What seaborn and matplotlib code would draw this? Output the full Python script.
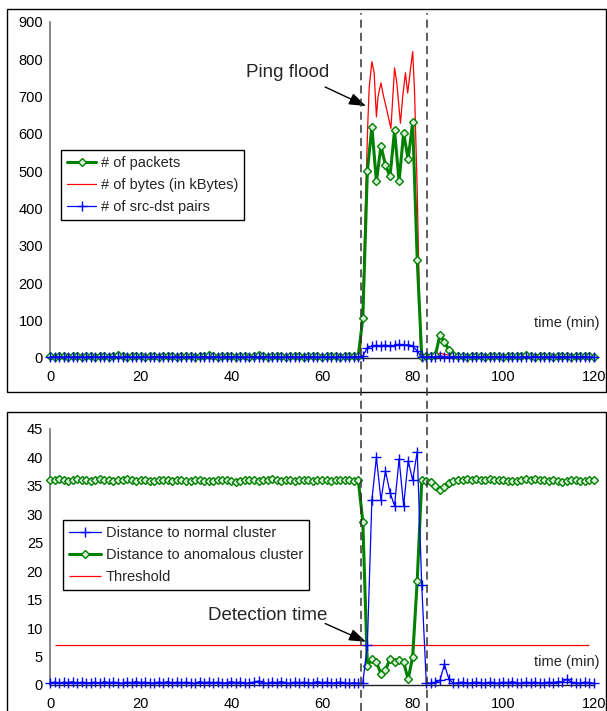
import numpy as np
import matplotlib
matplotlib.use("Agg")
import matplotlib.pyplot as plt
from matplotlib.patches import Rectangle
from matplotlib.lines import Line2D
import seaborn as sns

# time axis, one sample per minute
minutes = np.arange(0, 121)

# ---- top panel: traffic volume ----
packets = [4, 3, 5, 4, 3, 4, 5, 3, 4, 4,
           3, 5, 4, 3, 4, 6, 4, 3, 4, 5,
           4, 3, 4, 5, 3, 4, 4, 5, 3, 4,
           5, 4, 3, 4, 4, 6, 4, 3, 5, 4,
           4, 3, 5, 4, 3, 4, 6, 4, 3, 4,
           5, 4, 3, 4, 5, 4, 3, 4, 4, 5,
           3, 4, 5, 4, 3, 4, 5, 4,
           4, 106, 500, 618, 472, 567, 516, 486, 609, 472, 602, 532, 630, 263, 3,
           4, 5, 6, 60, 43, 20, 6,
           4, 5, 3, 4, 4, 5, 3, 4, 5, 4,
           3, 4, 5, 4, 4, 6, 4, 3, 4, 5,
           4, 3, 4, 5, 4, 3, 4, 5, 4, 4, 3]

# bytes are sampled finer during the flood
bytes_before = [6, 5, 7, 6, 5, 6, 7, 5, 6, 6,
                5, 7, 6, 5, 6, 8, 6, 5, 6, 7,
                6, 5, 6, 7, 5, 6, 6, 7, 5, 6,
                7, 6, 5, 6, 6, 8, 6, 5, 7, 6,
                6, 5, 7, 6, 5, 6, 8, 6, 5, 6,
                7, 6, 5, 6, 7, 6, 5, 6, 6, 7,
                5, 6, 7, 6, 5, 6, 7, 6]
flood_t = [68, 68.5, 69.0, 69.6, 70.1, 70.4, 71.0, 71.5, 72.0, 72.35, 73.0, 73.6, 74.3,
           75.2, 76.0, 76.5, 77.3, 77.8, 78.4, 78.9, 79.5, 80.0, 80.4, 81.0, 81.7, 82.0]
bytes_flood = [5, 20, 150, 420, 628, 722, 793, 763, 645, 699, 736, 699, 663,
               614, 776, 736, 628, 699, 763, 709, 771, 820, 717, 447, 30, 5]
bytes_after = [6, 7, 8, 12, 9, 7, 6, 5, 6, 7,
               5, 6, 6, 7, 5, 6, 7, 6, 5, 6,
               8, 6, 5, 6, 7, 6, 5, 6, 7, 6,
               5, 6, 7, 6, 5, 6, 6, 5]

pairs = [2, 3, 2, 2, 3, 2, 3, 2, 2, 3,
         2, 2, 3, 2, 3, 2, 2, 3, 2, 2,
         3, 2, 2, 3, 2, 3, 2, 2, 3, 2,
         2, 3, 2, 2, 3, 2, 3, 2, 2, 3,
         2, 2, 3, 2, 2, 3, 2, 3, 2, 2,
         3, 2, 2, 3, 2, 2, 3, 2, 3, 2,
         2, 3, 2, 2, 3, 2, 2, 3,
         2, 4, 27, 31, 33, 32, 34, 31, 33, 36, 33, 35, 31, 18, 2,
         2, 3, 2, 4, 3, 2, 3, 2, 2, 3,
         2, 3, 2, 2, 3, 2, 3, 2, 2, 3,
         2, 2, 3, 2, 3, 2, 2, 3, 2, 2,
         3, 2, 2, 3, 2, 3, 2, 2]

# ---- bottom panel: cluster distances ----
dist_normal = [0.4, 0.5, 0.3, 0.5, 0.4, 0.6, 0.3, 0.5, 0.4, 0.4,
               0.5, 0.3, 0.6, 0.4, 0.5, 0.4, 0.3, 0.5, 0.4, 0.6,
               0.4, 0.5, 0.3, 0.4, 0.5, 0.4, 0.6, 0.3, 0.5, 0.4,
               0.5, 0.4, 0.3, 0.6, 0.4, 0.5, 0.4, 0.5, 0.3, 0.4,
               0.6, 0.4, 0.5, 0.3, 0.4, 0.5, 0.7, 0.4, 0.3, 0.5,
               0.4, 0.6, 0.4, 0.3, 0.5, 0.4, 0.5, 0.3, 0.4, 0.6,
               0.4, 0.5, 0.3, 0.4, 0.5, 0.4, 0.3, 0.4, 0.3,
               0.4, 7.0, 32.5, 40.0, 32.5, 37.6, 33.8, 31.5, 39.7, 31.5, 39.4, 36.0, 41.0, 17.5, 0.4,
               0.3, 0.5, 0.8, 3.6, 1.0, 0.3, 0.4, 0.5, 0.3, 0.4,
               0.5, 0.4, 0.3, 0.5, 0.4, 0.3, 0.5, 0.4, 0.6, 0.4,
               0.3, 0.5, 0.4, 0.5, 0.3, 0.4, 0.5, 0.4, 0.6, 0.5,
               1.0, 0.5, 0.4, 0.3, 0.5, 0.4, 0.3]

dist_anomalous = [36.1, 36.0, 36.2, 36.1, 35.9, 36.0, 36.2, 36.1, 36.0, 35.9,
                  36.1, 36.2, 36.0, 36.1, 35.9, 36.0, 36.1, 36.2, 36.0, 35.9,
                  36.0, 36.1, 35.9, 35.8, 36.0, 36.1, 36.0, 35.9, 36.1, 36.0,
                  35.8, 35.9, 36.0, 36.1, 35.9, 35.8, 35.9, 36.0, 36.1, 36.0,
                  35.9, 35.7, 35.8, 36.0, 36.1, 36.0, 35.9, 36.0, 36.1, 36.2,
                  36.0, 35.9, 36.1, 36.0, 35.9, 36.0, 36.1, 36.0, 35.9, 36.0,
                  36.1, 36.0, 35.9, 36.0, 36.1, 36.0, 36.0, 35.9, 36.0,
                  28.7, 3.4, 4.5, 4.0, 2.0, 2.6, 4.6, 4.0, 4.4, 4.0, 1.0, 5.0, 18.3, 36.0,
                  35.8, 35.7, 35.0, 34.2, 34.8, 35.5, 35.8, 36.0, 36.1, 36.2,
                  36.1, 36.2, 36.0, 36.1, 36.2, 36.1, 36.0, 36.1, 35.9, 35.8,
                  35.9, 36.0, 36.2, 36.1, 36.2, 36.0, 36.1, 35.9, 36.0, 35.8,
                  35.7, 35.9, 36.1, 36.0, 35.8, 35.9, 36.0, 36.0]

threshold = 7
flood_start, flood_end = 68.6, 83.2

bytes_t = np.concatenate([minutes[:68], flood_t, minutes[83:]])
bytes_kb = bytes_before + bytes_flood + bytes_after

GREEN = '#008000'
RED = '#ff0000'
BLUE = '#0000ff'
GRAY = '#808080'

sns.set_style("white")
plt.rcParams['font.family'] = ['Liberation Sans', 'DejaVu Sans']

fig = plt.figure(figsize=(6.07, 7.11), dpi=100)
ax1 = fig.add_axes([0.0824, 0.4969, 0.8962, 0.4726])
ax2 = fig.add_axes([0.0824, 0.0366, 0.8962, 0.3601])

# seaborn whitens marker edges by default, so set them explicitly
green_kw = dict(color=GREEN, lw=2.2, marker='D', ms=4, mfc='#d8f0d8', mec=GREEN, mew=1.0)
blue_kw = dict(color=BLUE, lw=0.9, marker='+', ms=7, mec=BLUE, mew=1.0)

# top panel
sns.lineplot(x=bytes_t, y=bytes_kb, ax=ax1, color=RED, lw=0.9,
             label='# of bytes (in kBytes)', zorder=2, clip_on=False)
sns.lineplot(x=minutes, y=packets, ax=ax1, label='# of packets', zorder=3,
             clip_on=False, **green_kw)
sns.lineplot(x=minutes, y=pairs, ax=ax1, label='# of src-dst pairs', zorder=4,
             clip_on=False, **blue_kw)

# bottom panel
sns.lineplot(x=minutes, y=dist_anomalous, ax=ax2, label='Distance to anomalous cluster',
             zorder=3, clip_on=False, **green_kw)
sns.lineplot(x=minutes, y=dist_normal, ax=ax2, label='Distance to normal cluster',
             zorder=4, clip_on=False, **blue_kw)
ax2.hlines(threshold, minutes[1], minutes[-2], color=RED, lw=0.9, zorder=2, label='Threshold')


def style_axis(ax, ymax, ystep):
    ax.set_xlim(0, 120)
    ax.set_ylim(0, ymax)
    ax.set_xticks(range(0, 121, 20))
    ax.set_yticks(np.arange(0, ymax + 1, ystep))
    ax.set_xlabel('')
    ax.set_ylabel('')
    for s in ['top', 'right']:
        ax.spines[s].set_visible(False)
    ax.spines['left'].set_color(GRAY)
    ax.spines['left'].set_linewidth(1.3)
    ax.spines['bottom'].set_color('#222222')
    ax.spines['bottom'].set_linewidth(1.0)
    ax.tick_params(direction='inout', length=6, width=1, color=GRAY,
                   labelsize=10.5, labelcolor='black')
    ax.tick_params(axis='x', pad=6)
    ax.tick_params(axis='y', pad=2)
    ax.patch.set_alpha(0)


style_axis(ax1, 900, 100)
style_axis(ax2, 45, 5)

# legends
h1, l1 = ax1.get_legend_handles_labels()
order1 = ['# of packets', '# of bytes (in kBytes)', '# of src-dst pairs']
leg1 = ax1.legend([h1[l1.index(k)] for k in order1], order1, loc='upper left',
                  bbox_to_anchor=(0.0197, 0.618), fancybox=False, edgecolor='black',
                  framealpha=1, fontsize=10.5, handlelength=2.05, handletextpad=0.3,
                  labelspacing=0.55, borderpad=0.4, borderaxespad=0)
leg1.get_frame().set_linewidth(1.0)

h2, l2 = ax2.get_legend_handles_labels()
order2 = ['Distance to normal cluster', 'Distance to anomalous cluster', 'Threshold']
leg2 = ax2.legend([h2[l2.index(k)] for k in order2], order2, loc='upper left',
                  bbox_to_anchor=(0.0245, 0.645), fancybox=False, edgecolor='black',
                  framealpha=1, fontsize=10.5, handlelength=2.2, handletextpad=0.3,
                  labelspacing=0.55, borderpad=0.4, borderaxespad=0)
leg2.get_frame().set_linewidth(1.0)

# annotations
arrow = dict(arrowstyle='-|>,head_length=0.85,head_width=0.3', color='black',
             lw=1.0, mutation_scale=12, shrinkA=0, shrinkB=0)
ax1.text(52.5, 765, 'Ping flood', ha='center', va='center', fontsize=13.5)
ax1.annotate('', xy=(69.7, 674), xytext=(60.7, 725), arrowprops=arrow)
ax2.text(48, 12.2, 'Detection time', ha='center', va='center', fontsize=13.5)
ax2.annotate('', xy=(69.7, 7.6), xytext=(60.7, 10.8), arrowprops=arrow)

ax1.text(121.3, 94, 'time (min)', ha='right', va='center', fontsize=10.5)
ax2.text(121.3, 4.1, 'time (min)', ha='right', va='center', fontsize=10.5)

# panel frames
fig.add_artist(Rectangle((0.0115, 0.4487), 0.9865, 0.5386, transform=fig.transFigure,
                         fill=False, edgecolor='black', lw=1.0))
fig.add_artist(Rectangle((0.0115, -0.01), 0.9865, 0.4305, transform=fig.transFigure,
                         fill=False, edgecolor='black', lw=1.0))

# dashed lines marking the flood interval across both panels
to_fig = fig.transFigure.inverted()
for t in (flood_start, flood_end):
    fx = to_fig.transform(ax1.transData.transform((t, 0)))[0]
    fig.add_artist(Line2D([fx, fx], [0, 0.982], transform=fig.transFigure,
                          ls=(0, (5.3, 3.3)), color='#333333', lw=1.1, zorder=10))

fig.savefig('out.png', dpi=100)
